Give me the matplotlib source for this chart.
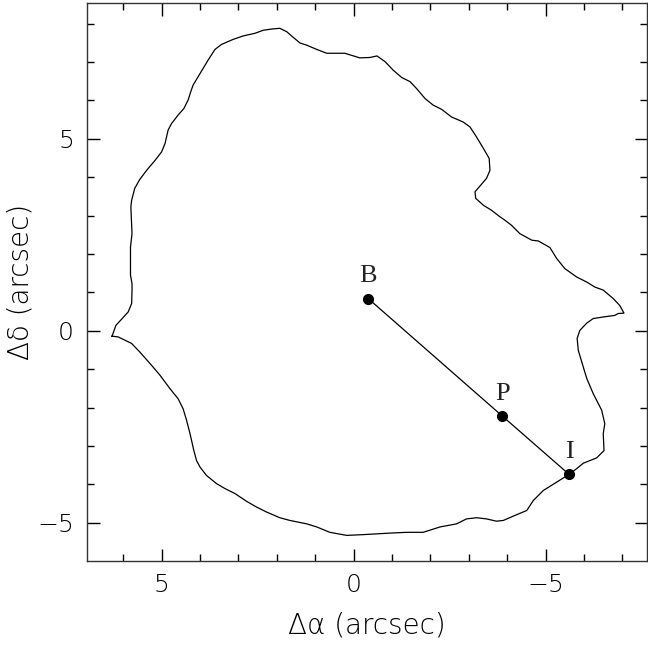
import matplotlib
matplotlib.use("Agg")
import matplotlib.pyplot as plt
from matplotlib.ticker import MultipleLocator

# Outline of the emission region (arcsec offsets), traced clockwise
contour_ra = [6.29, 6.19, 5.87, 5.78, 5.77, 5.77, 5.81, 5.81, 5.77, 5.80,
              5.78, 5.70, 5.57, 5.39, 5.17, 5.00, 4.91, 4.83, 4.74, 4.57,
              4.42, 4.31, 4.24, 4.18, 4.00, 3.79, 3.61, 3.44, 3.14, 2.88,
              2.57, 2.35, 2.14, 1.92, 1.74, 1.59, 1.40, 1.22, 0.96, 0.70,
              0.36, 0.23, -0.16, -0.42, -0.61, -0.82, -1.03, -1.25, -1.47, -1.64,
              -1.86, -2.07, -2.29, -2.55, -2.85, -3.03, -3.20, -3.38, -3.53, -3.55,
              -3.46, -3.29, -3.16, -3.18, -3.38, -3.59, -3.81, -3.94, -4.11, -4.33,
              -4.64, -4.81, -5.11, -5.29, -5.50, -5.81, -6.07, -6.28, -6.50, -6.76,
              -6.93, -7.04, -6.89, -6.80, -6.50, -6.24, -6.07, -5.89, -5.82, -5.85,
              -5.98, -6.07, -6.24, -6.46, -6.54, -6.50, -6.52, -6.33, -5.98, -5.81,
              -5.61, -5.29, -4.94, -4.68, -4.51, -4.20, -3.90, -3.72, -3.46, -3.20,
              -2.94, -2.68, -2.25, -1.81, -1.38, -0.95, -0.25, 0.18, 0.62, 0.96,
              1.22, 1.66, 1.92, 2.27, 2.53, 2.79, 3.09, 3.35, 3.57, 3.83,
              4.00, 4.09, 4.16, 4.26, 4.35, 4.44, 4.57, 4.78, 5.04, 5.26,
              5.57, 5.78, 6.13, 6.29]
contour_dec = [-0.14, 0.14, 0.49, 0.71, 1.06, 1.23, 1.45, 2.18, 2.53, 3.23,
               3.40, 3.71, 3.94, 4.18, 4.44, 4.66, 4.88, 5.23, 5.40, 5.62,
               5.79, 6.01, 6.23, 6.40, 6.70, 7.05, 7.33, 7.46, 7.59, 7.68,
               7.75, 7.83, 7.86, 7.88, 7.79, 7.66, 7.50, 7.44, 7.33, 7.23,
               7.23, 7.23, 7.11, 7.12, 7.16, 7.01, 6.79, 6.60, 6.49, 6.31,
               6.05, 5.88, 5.77, 5.57, 5.44, 5.31, 5.05, 4.75, 4.49, 4.18,
               3.97, 3.77, 3.62, 3.45, 3.27, 3.14, 2.97, 2.88, 2.75, 2.53,
               2.36, 2.34, 2.17, 1.88, 1.62, 1.40, 1.27, 1.14, 1.06, 0.84,
               0.66, 0.46, 0.45, 0.40, 0.36, 0.32, 0.20, 0.01, -0.20, -0.51,
               -0.94, -1.24, -1.64, -2.07, -2.42, -2.68, -3.12, -3.31, -3.45, -3.59,
               -3.74, -3.94, -4.16, -4.42, -4.68, -4.81, -4.94, -4.96, -4.90, -4.87,
               -4.90, -5.03, -5.11, -5.25, -5.25, -5.27, -5.31, -5.33, -5.25, -5.11,
               -5.03, -4.94, -4.87, -4.72, -4.59, -4.44, -4.24, -4.11, -3.98, -3.77,
               -3.55, -3.38, -3.12, -2.68, -2.33, -2.03, -1.77, -1.51, -1.16, -0.90,
               -0.55, -0.33, -0.16, -0.14]

# Marked positions along the axis B -> I
point_names = ["B", "P", "I"]
point_ra = [-0.38, -3.87, -5.61]
point_dec = [0.84, -2.22, -3.74]

x_label = "Δα (arcsec)"
y_label = "Δδ (arcsec)"

plt.rcParams["font.family"] = ["DejaVu Sans"]
plt.rcParams["font.weight"] = "light"
plt.rcParams["axes.labelweight"] = "light"

fig = plt.figure(figsize=(6.48, 6.46), dpi=100)
ax = fig.add_axes([0.1338, 0.132, 0.8647, 0.8634])

ax.plot(contour_ra, contour_dec, color="black", lw=0.9)
ax.plot(point_ra, point_dec, color="black", lw=0.9)
ax.plot(point_ra, point_dec, "o", color="black", ms=7, lw=0)

for name, xr, yd in zip(point_names, point_ra, point_dec):
    ax.annotate(name, (xr, yd), xytext=(0, 16), textcoords="offset points",
                ha="center", va="center", fontsize=19, fontweight="normal",
                family=["Liberation Serif"], color="#222222")

ax.set_xlim(6.95, -7.64)
ax.set_ylim(-5.99, 8.54)

for axis in (ax.xaxis, ax.yaxis):
    axis.set_major_locator(MultipleLocator(5))
    axis.set_minor_locator(MultipleLocator(1))

ax.tick_params(which="both", direction="in", top=True, right=True,
               color="black", width=1.0)
ax.tick_params(which="major", length=9, pad=9, labelsize=18)
ax.tick_params(which="minor", length=5)
for s in ax.spines.values():
    s.set_color("#333333")
    s.set_linewidth(1.0)

ax.set_xticks([5, 0, -5])
ax.set_xticklabels(["5", "0", "\u22125"])
ax.set_yticks([-5, 0, 5])
ax.set_yticklabels(["\u22125", "0", "5"])

ax.set_xlabel(x_label, fontsize=20, labelpad=10)
ax.set_ylabel(y_label, fontsize=20, labelpad=2)

fig.savefig("out.png", dpi=100)
